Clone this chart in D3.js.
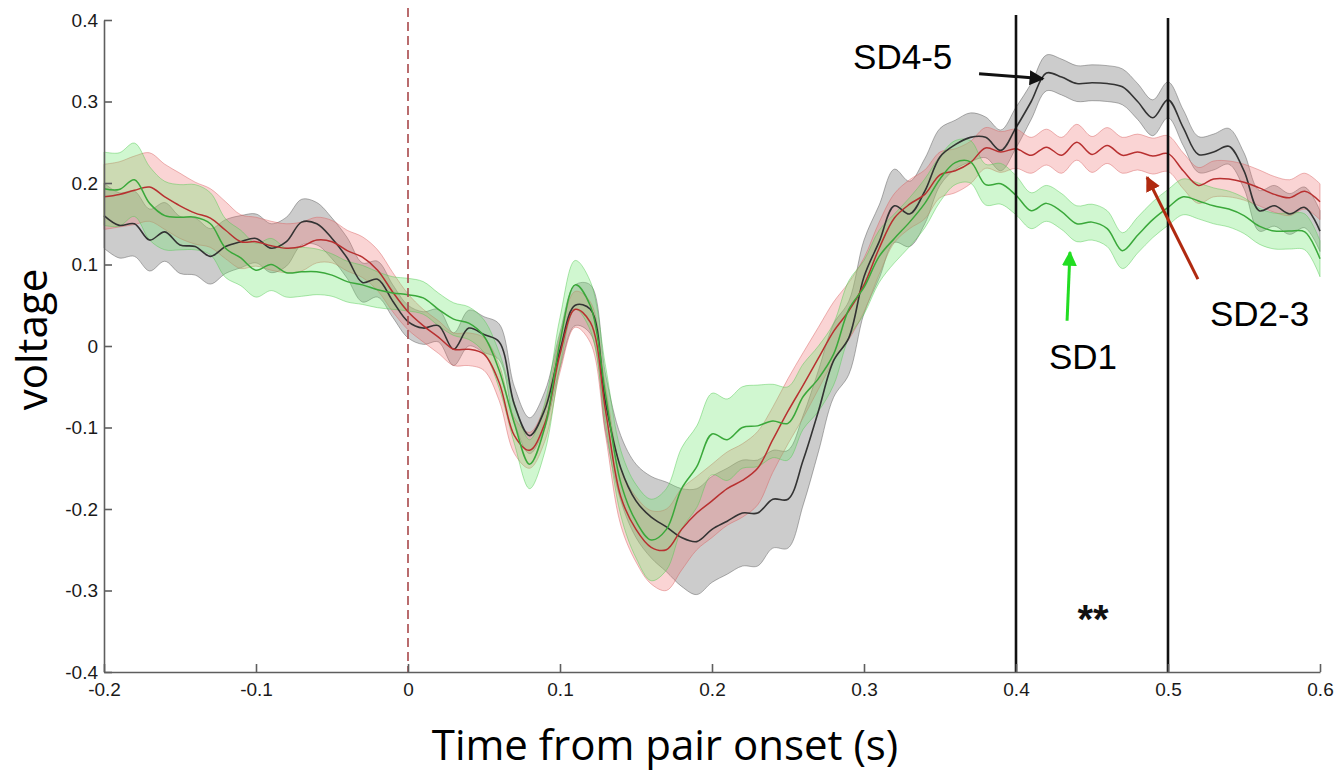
<!DOCTYPE html>
<html>
<head>
<meta charset="utf-8">
<script src="https://cdn.jsdelivr.net/npm/d3@7"></script>
<style>
  html, body { margin: 0; padding: 0; background: #fff; }
  svg { display: block; }
</style>
</head>
<body>
<svg id="chart" width="1339" height="773"></svg>
<script>
// ---- data ----
const xTicks = [-0.2, -0.1, 0, 0.1, 0.2, 0.3, 0.4, 0.5, 0.6];
const yTicks = [-0.4, -0.3, -0.2, -0.1, 0, 0.1, 0.2, 0.3, 0.4];
const time = d3.range(81).map(i => +(-0.2 + i * 0.01).toFixed(2));

const sd45Mean = [0.160,0.148,0.150,0.130,0.140,0.124,0.122,0.110,0.122,0.128,0.132,
 0.120,0.128,0.152,0.150,0.132,0.108,0.078,0.082,0.055,
 0.030,0.022,0.025,-0.004,0.022,0.014,0.005,-0.072,-0.110,-0.078,
 -0.005,0.050,0.045,-0.070,-0.150,-0.190,-0.210,-0.222,-0.235,-0.240,
 -0.225,-0.215,-0.205,-0.205,-0.188,-0.188,-0.140,-0.080,-0.018,0.010,
 0.085,0.128,0.172,0.162,0.190,0.232,0.247,0.256,0.256,0.240,
 0.268,0.300,0.335,0.330,0.322,0.323,0.322,0.318,0.300,0.280,
 0.302,0.268,0.235,0.238,0.245,0.215,0.166,0.172,0.162,0.170,0.141];
const sd45Err = [0.040,0.040,0.040,0.038,0.036,0.035,0.035,0.034,0.033,0.032,0.030,
 0.030,0.030,0.028,0.026,0.025,0.025,0.024,0.022,0.020,
 0.020,0.020,0.020,0.020,0.022,0.022,0.022,0.022,0.022,0.022,
 0.022,0.025,0.030,0.035,0.040,0.045,0.050,0.055,0.060,0.065,
 0.065,0.065,0.065,0.065,0.060,0.060,0.055,0.050,0.045,0.045,
 0.045,0.045,0.045,0.040,0.040,0.035,0.030,0.030,0.025,0.025,
 0.025,0.022,0.022,0.022,0.022,0.022,0.022,0.022,0.022,0.022,
 0.022,0.022,0.022,0.022,0.022,0.022,0.025,0.025,0.025,0.025,0.025];

const sd23Mean = [0.183,0.186,0.191,0.195,0.183,0.172,0.163,0.157,0.142,0.128,0.128,
 0.123,0.120,0.122,0.130,0.128,0.117,0.109,0.093,0.066,
 0.042,0.025,0.011,-0.004,-0.004,-0.010,-0.045,-0.110,-0.128,-0.095,
 -0.010,0.045,0.029,-0.080,-0.185,-0.225,-0.247,-0.250,-0.225,-0.205,
 -0.190,-0.175,-0.165,-0.150,-0.115,-0.080,-0.048,-0.015,0.018,0.043,
 0.075,0.120,0.157,0.174,0.186,0.210,0.215,0.225,0.243,0.238,
 0.242,0.234,0.244,0.234,0.250,0.235,0.246,0.234,0.238,0.233,
 0.236,0.215,0.197,0.205,0.205,0.201,0.194,0.186,0.182,0.190,0.177];
const sd23Err = [0.040,0.040,0.042,0.042,0.040,0.040,0.038,0.036,0.035,0.033,0.030,
 0.030,0.030,0.030,0.028,0.026,0.025,0.025,0.025,0.024,
 0.022,0.020,0.020,0.020,0.020,0.020,0.022,0.022,0.022,0.022,
 0.022,0.022,0.025,0.030,0.035,0.040,0.045,0.050,0.050,0.045,
 0.045,0.045,0.045,0.045,0.040,0.040,0.040,0.038,0.036,0.035,
 0.033,0.032,0.030,0.030,0.030,0.028,0.027,0.026,0.025,0.025,
 0.024,0.022,0.022,0.022,0.022,0.022,0.022,0.022,0.022,0.022,
 0.022,0.022,0.022,0.022,0.022,0.022,0.022,0.022,0.022,0.022,0.022];

const sd1Mean = [0.193,0.192,0.204,0.175,0.160,0.158,0.158,0.150,0.120,0.108,0.093,
 0.100,0.090,0.091,0.091,0.087,0.079,0.075,0.069,0.065,
 0.063,0.059,0.045,0.033,0.028,0.012,-0.030,-0.095,-0.145,-0.100,
 0.005,0.075,0.049,-0.060,-0.168,-0.215,-0.238,-0.225,-0.175,-0.148,
 -0.108,-0.115,-0.100,-0.098,-0.092,-0.095,-0.062,-0.040,-0.010,0.045,
 0.072,0.110,0.132,0.152,0.175,0.205,0.225,0.226,0.198,0.199,
 0.185,0.166,0.175,0.165,0.150,0.152,0.144,0.117,0.136,0.155,
 0.170,0.183,0.178,0.172,0.168,0.160,0.147,0.141,0.141,0.140,0.107];
const sd1Err = [0.045,0.045,0.045,0.045,0.042,0.040,0.040,0.038,0.036,0.034,0.033,
 0.032,0.030,0.030,0.028,0.026,0.025,0.024,0.022,0.020,
 0.020,0.020,0.020,0.020,0.020,0.020,0.022,0.025,0.030,0.030,
 0.030,0.030,0.030,0.035,0.040,0.045,0.050,0.050,0.050,0.050,
 0.050,0.050,0.050,0.050,0.045,0.045,0.040,0.040,0.038,0.035,
 0.033,0.032,0.030,0.030,0.030,0.028,0.027,0.026,0.025,0.025,
 0.024,0.022,0.022,0.022,0.022,0.022,0.022,0.022,0.022,0.022,
 0.022,0.022,0.022,0.022,0.022,0.022,0.022,0.022,0.022,0.022,0.022];

const markerTimes = [0.4, 0.5];
const onsetTime = 0;

// annotations: label text, label anchor (t, v); arrow from (t0,v0) to (t1,v1)
const labelNames = ["SD4-5", "SD1", "SD2-3"];
const labelPos = [[0.2928, 0.340], [0.4217, -0.028], [0.5276, 0.0245]];
const arrowFrom = [[0.3757, 0.334], [0.4336, 0.031], [0.5197, 0.082]];
const arrowTo = [[0.4178, 0.328], [0.4355, 0.115], [0.4862, 0.207]];
const arrowColors = ["#111111", "#22dd22", "#b02a10"];
const sigText = "**";
const sigPos = [0.4507, -0.352];

// ---- chart ----
const svg = d3.select("#chart");
const x = d3.scaleLinear().domain([-0.2, 0.6]).range([104, 1320]);
const y = d3.scaleLinear().domain([-0.4, 0.4]).range([672, 20]);

const series = [
  { mean: sd45Mean, err: sd45Err, fill: "#7a7a7a", edge: "#555555", line: "#333333", fo: 0.38, lw: 1.6 },
  { mean: sd23Mean, err: sd23Err, fill: "#f07a7a", edge: "#d86060", line: "#b83030", fo: 0.32, lw: 1.5 },
  { mean: sd1Mean,  err: sd1Err,  fill: "#6ee66e", edge: "#50c850", line: "#3aa83a", fo: 0.32, lw: 1.5 }
];

const curve = d3.curveCatmullRom.alpha(0.5);
const area = d3.area().curve(curve)
  .x((d, i) => x(time[i]))
  .y0(d => y(d[0] - d[1]))
  .y1(d => y(d[0] + d[1]));
const line = d3.line().curve(curve)
  .x((d, i) => x(time[i]))
  .y(d => y(d));

const gBands = svg.append("g");
series.forEach(s => {
  const pts = s.mean.map((m, i) => [m, s.err[i]]);
  gBands.append("path").attr("d", area(pts))
    .attr("fill", s.fill).attr("fill-opacity", s.fo)
    .attr("stroke", s.edge).attr("stroke-opacity", 0.45).attr("stroke-width", 1);
});
const gLines = svg.append("g");
series.forEach(s => {
  gLines.append("path").attr("d", line(s.mean))
    .attr("fill", "none").attr("stroke", s.line).attr("stroke-width", s.lw)
    .attr("stroke-linejoin", "round");
});

// white label box behind SD2-3 (as in the figure)
svg.append("rect").attr("x", 1190).attr("y", 281).attr("width", 149).attr("height", 70).attr("fill", "#fff");

// onset dashed line
svg.append("line")
  .attr("x1", x(onsetTime)).attr("x2", x(onsetTime))
  .attr("y1", y(0.4) - 12).attr("y2", y(-0.4))
  .attr("stroke", "#a8484a").attr("stroke-width", 1.6).attr("stroke-dasharray", "9,5");

// window lines
svg.selectAll(".win").data(markerTimes).enter().append("line")
  .attr("x1", d => x(d)).attr("x2", d => x(d))
  .attr("y1", (d, i) => y(0.4) - 5 + i * 3).attr("y2", y(-0.4))
  .attr("stroke", "#111").attr("stroke-width", 2.6);

// axes
const fmt = d => (d === 0 ? "0" : String(+d.toFixed(1)));
const yAxis = d3.axisLeft(y).tickValues(yTicks).tickFormat(fmt).tickSize(-8).tickSizeOuter(0).tickPadding(6);
const xAxis = d3.axisBottom(x).tickValues(xTicks).tickFormat(fmt).tickSize(-8).tickSizeOuter(0).tickPadding(11);

const gy = svg.append("g").attr("transform", `translate(${x(-0.2)},0)`).call(yAxis);
const gx = svg.append("g").attr("transform", `translate(0,${y(-0.4)})`).call(xAxis);
[gx, gy].forEach(g => {
  g.select(".domain").attr("stroke", "#5e5e5e").attr("stroke-width", 1.6);
  g.selectAll(".tick line").attr("stroke", "#5e5e5e").attr("stroke-width", 1.6);
  g.selectAll(".tick text").attr("fill", "#1a1a1a")
    .style("font-family", "'Liberation Sans', Arial, sans-serif").style("font-size", "19px");
});

// axis titles
svg.append("text").attr("transform", `translate(47,${y(0.008)}) rotate(-90)`)
  .attr("text-anchor", "middle")
  .style("font-family", "'Open Sans', sans-serif").style("font-size", "42px").attr("fill", "#000")
  .text("voltage");
svg.append("text").attr("x", 665).attr("y", 760)
  .attr("text-anchor", "middle")
  .style("font-family", "'Open Sans', sans-serif").style("font-size", "42px").attr("fill", "#000")
  .text("Time from pair onset (s)");

// arrows
const defs = svg.append("defs");
arrowColors.forEach((c, i) => {
  defs.append("marker").attr("id", "ah" + i)
    .attr("viewBox", "0 0 10 10").attr("refX", 9).attr("refY", 5)
    .attr("markerWidth", 5).attr("markerHeight", 5).attr("orient", "auto")
    .attr("markerUnits", "strokeWidth")
    .append("path").attr("d", "M0,0 L10,5 L0,10 Z").attr("fill", c);
});
arrowFrom.forEach((f, i) => {
  svg.append("line")
    .attr("x1", x(f[0])).attr("y1", y(f[1]))
    .attr("x2", x(arrowTo[i][0])).attr("y2", y(arrowTo[i][1]))
    .attr("stroke", arrowColors[i]).attr("stroke-width", 3)
    .attr("marker-end", `url(#ah${i})`);
});

// labels
labelNames.forEach((t, i) => {
  svg.append("text").attr("x", x(labelPos[i][0])).attr("y", y(labelPos[i][1]))
    .style("font-family", "'Liberation Sans', Arial, sans-serif").style("font-size", "35px")
    .attr("fill", "#000").text(t);
});
svg.append("text").attr("x", x(sigPos[0])).attr("y", y(sigPos[1]))
  .attr("text-anchor", "middle")
  .style("font-family", "'Liberation Sans', Arial, sans-serif").style("font-size", "40px")
  .style("font-weight", "bold")
  .attr("fill", "#111").text(sigText);
</script>
</body>
</html>
